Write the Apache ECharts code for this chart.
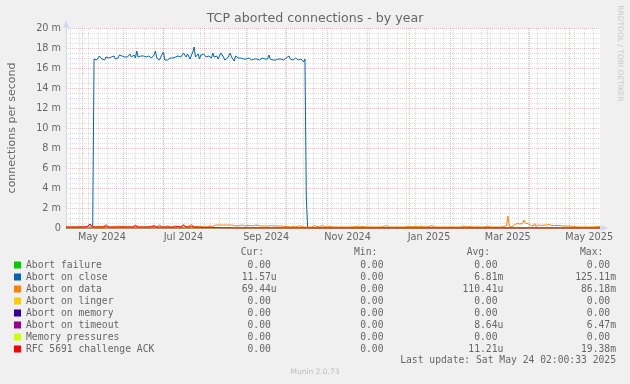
<!DOCTYPE html>
<html><head><meta charset="utf-8">
<script src="https://cdn.jsdelivr.net/npm/echarts@6/dist/echarts.min.js"></script>
<style>html,body{margin:0;padding:0;background:#F0F0F0;}#c{width:630px;height:384px;}</style>
</head><body><div id="c"></div>
<script>
// ---------- data ----------
const titleText = 'TCP aborted connections - by year';
const yAxisTitle = 'connections per second';
const endTime = Date.UTC(2025, 4, 24, 2, 0, 33);
const spanDays = 400;
const DAY = 86400000;
const startTime = endTime - spanDays * DAY;

const seriesNames = ['Abort failure', 'Abort on close', 'Abort on data', 'Abort on linger',
  'Abort on memory', 'Abort on timeout', 'Memory pressures', 'RFC 5691 challenge ACK'];
const seriesColors = ['#00CC00', '#0066B3', '#FF8000', '#FFCC00', '#330099', '#990099', '#CCFF00', '#FF0000'];

// y values in milli-connections per second (m), daily averages
const failureLevel = 0;
const lingerLevel = 0;
const memoryLevel = 0;
const pressuresLevel = 0;

const closeFirstDay = 20;
const closeDaily = [0.1,
  16.9,17.0,16.8,16.7,17.2,17.1,16.9,17.0,16.8,17.1,
  17.2,17.0,16.9,17.1,17.0,17.2,16.9,17.1,17.0,17.3,
  17.1,17.2,17.0,17.1,17.3,17.1,17.2,17.4,17.1,17.2,
  17.3,17.0,17.7,17.1,16.9,17.2,17.1,17.2,17.0,17.1,
  17.1,17.2,17.1,17.0,17.2,17.3,17.7,17.0,16.9,16.8,
  17.1,17.2,17.6,16.8,16.6,16.8,16.9,17.0,17.1,17.0,
  17.2,17.1,17.3,17.2,17.4,17.1,17.2,17.5,17.6,17.1,
  17.4,17.3,16.9,17.3,17.6,18.1,17.1,17.2,17.4,16.9,
  17.3,17.2,17.4,17.5,17.1,17.3,17.2,17.3,17.0,17.5,
  17.1,17.3,17.2,16.9,17.0,17.5,17.6,17.1,16.8,16.7,
  17.0,17.2,17.5,17.1,16.9,16.7,17.2,17.1,17.0,16.8,
  17.0,17.1,16.9,17.0,16.9,16.9,17.0,16.9,16.8,16.9,
  16.9,16.8,16.9,16.9,16.8,16.9,17.0,16.9,16.9,16.8,
  16.9,17.3,16.9,16.8,16.8,16.9,16.8,16.9,16.9,16.8,
  16.9,16.9,16.8,16.9,17.0,16.9,17.2,16.9,16.9,16.8,
  16.9,17.0,16.9,16.8,17.0,16.9,16.8,16.6,16.9,
  3.1, 0.0];

const dataDaily = [
  0.10,0.12,0.10,0.15,0.10,0.12,0.10,0.20,0.10,0.12,
  0.15,0.10,0.12,0.18,0.10,0.12,0.10,0.25,0.35,0.20,
  0.15,0.10,0.12,0.10,0.15,0.10,0.12,0.10,0.15,0.30,
  0.35,0.15,0.10,0.12,0.10,0.15,0.10,0.12,0.10,0.15,
  0.20,0.10,0.12,0.10,0.15,0.10,0.12,0.10,0.12,0.15,
  0.10,0.25,0.30,0.12,0.10,0.15,0.10,0.12,0.10,0.15,
  0.12,0.20,0.10,0.15,0.10,0.12,0.25,0.15,0.10,0.20,
  0.30,0.20,0.15,0.10,0.12,0.10,0.20,0.15,0.10,0.12,
  0.10,0.15,0.25,0.12,0.10,0.20,0.15,0.30,0.35,0.15,
  0.12,0.10,0.20,0.30,0.35,0.15,0.12,0.10,0.15,0.20,
  0.12,0.10,0.15,0.12,0.10,0.20,0.15,0.10,0.20,0.12,
  0.15,0.25,0.30,0.25,0.30,0.20,0.30,0.25,0.30,0.20,
  0.30,0.25,0.30,0.25,0.30,0.20,0.25,0.30,0.20,0.30,
  0.25,0.20,0.30,0.25,0.20,0.30,0.25,0.20,0.25,0.30,
  0.20,0.25,0.30,0.20,0.25,0.30,0.20,0.25,0.20,0.30,
  0.20,0.25,0.20,0.30,0.25,0.20,0.20,0.25,0.20,0.25,
  0.20,0.15,0.20,0.25,0.15,0.20,0.15,0.20,0.10,0.20,
  0.15,0.20,0.10,0.15,0.20,0.10,0.20,0.15,0.10,0.15,
  0.10,0.20,0.10,0.15,0.10,0.12,0.25,0.10,0.15,0.10,
  0.12,0.10,0.25,0.10,0.12,0.10,0.12,0.10,0.15,0.10,
  0.10,0.12,0.10,0.15,0.10,0.12,0.10,0.20,0.10,0.12,
  0.10,0.15,0.10,0.12,0.10,0.10,0.12,0.10,0.20,0.10,
  0.12,0.10,0.15,0.10,0.12,0.10,0.10,0.20,0.10,0.12,
  0.10,0.12,0.10,0.15,0.10,0.12,0.10,0.20,0.15,0.10,
  0.25,0.15,0.10,0.12,0.10,0.15,0.10,0.12,0.10,0.12,
  0.10,0.15,0.10,0.12,0.10,0.12,0.15,0.30,0.15,0.10,
  0.12,0.10,0.15,0.10,0.12,0.10,0.20,0.10,0.12,0.10,
  0.12,0.10,0.15,0.10,0.25,0.15,0.10,0.12,0.10,0.15,
  0.10,0.12,0.10,0.15,0.10,0.12,0.10,0.15,0.10,0.12,
  0.10,0.15,0.10,0.12,0.10,0.15,0.10,0.12,0.20,0.10,
  0.12,0.10,0.15,0.10,0.12,0.10,0.10,0.10,0.12,0.10,
  0.10,0.12,0.10,0.10,0.12,0.10,0.15,0.10,0.10,0.12,
  0.10,0.12,0.10,0.15,0.10,0.12,0.10,0.12,0.15,0.20,
  0.25,1.20,0.20,0.15,0.10,0.25,0.35,0.30,0.45,0.35,
  0.40,0.55,0.45,0.80,0.50,0.30,0.45,0.30,0.25,0.20,
  0.20,0.45,0.15,0.25,0.30,0.30,0.25,0.30,0.30,0.25,
  0.30,0.30,0.35,0.30,0.25,0.30,0.25,0.30,0.25,0.20,
  0.25,0.20,0.20,0.15,0.20,0.15,0.20,0.15,0.20,0.10,
  0.15,0.10,0.12,0.15,0.10,0.12,0.10,0.15,0.10,0.12,
  0.10,0.15,0.10,0.12,0.10,0.15,0.10,0.12,0.15,0.10,
  0.12];

const timeoutDays   = [0, 215, 216, 217, 221, 222, 223, 400];
const timeoutValues = [0, 0, 0.06, 0, 0, 0.06, 0, 0];

const rfcDaily = [
  0.10,0.08,0.10,0.08,0.10,0.08,0.10,0.08,0.10,0.12,
  0.10,0.08,0.10,0.12,0.10,0.08,0.15,0.20,0.40,0.25,
  0.10,0.08,0.10,0.08,0.10,0.12,0.10,0.08,0.10,0.15,
  0.20,0.12,0.10,0.08,0.10,0.08,0.10,0.12,0.10,0.08,
  0.10,0.08,0.10,0.12,0.10,0.08,0.10,0.08,0.10,0.12,
  0.10,0.15,0.20,0.12,0.10,0.08,0.10,0.08,0.10,0.08,
  0.10,0.12,0.10,0.08,0.15,0.25,0.20,0.10,0.08,0.10,
  0.12,0.10,0.08,0.10,0.08,0.10,0.12,0.10,0.08,0.10,
  0.08,0.10,0.12,0.10,0.15,0.10,0.08,0.20,0.25,0.15,
  0.10,0.08,0.10,0.15,0.20,0.10,0.08,0.10,0.08,0.10,
  0.08,0.10,0.05,0.08,0.05,0.08,0.05,0.05,0.08,0.05,
  0.05,0.03,0.05,0.03,0.05,0.03,0.02,0.03,0.02,0.02,
  0.02,0.01,0.02,0.01,0.01,0.0,0.0,0.0,0.0,0.0];

const yMin = 0, yMax = 20, yStep = 2;
const monthStarts = ['2024-05-01','2024-06-01','2024-07-01','2024-08-01','2024-09-01','2024-10-01',
  '2024-11-01','2024-12-01','2025-01-01','2025-02-01','2025-03-01','2025-04-01','2025-05-01'];
const labelDates = ['2024-05-16','2024-07-16','2024-09-16','2024-11-16','2025-01-16','2025-03-16','2025-05-16'];
const labelTexts = ['May 2024','Jul 2024','Sep 2024','Nov 2024','Jan 2025','Mar 2025','May 2025'];

const curValues = ['0.00','11.57u','69.44u','0.00','0.00','0.00','0.00','0.00'];
const minValues = ['0.00','0.00','0.00','0.00','0.00','0.00','0.00','0.00'];
const avgValues = ['0.00','6.81m','110.41u','0.00','0.00','8.64u','0.00','11.21u'];
const maxValues = ['0.00','125.11m','86.18m','0.00','0.00','6.47m','0.00','19.38m'];
const lastUpdate = 'Last update: Sat May 24 02:00:33 2025';
const muninVersion = 'Munin 2.0.73';
const watermark = 'RRDTOOL / TOBI OETIKER';

// ---------- build ----------
const dayToTime = d => startTime + d * DAY;
const flat = lv => [[startTime, lv], [endTime, lv]];
const closeData = [[startTime, 0]].concat(closeDaily.map((v, i) => [dayToTime(closeFirstDay + i), v]), [[endTime, 0]]);
const dataData = dataDaily.map((v, i) => [dayToTime(i), v]);
const timeoutData = timeoutDays.map((d, i) => [dayToTime(d), timeoutValues[i]]);
const rfcData = rfcDaily.map((v, i) => [dayToTime(i), v]).concat([[endTime, 0]]);
const seriesData = [flat(failureLevel), closeData, dataData, flat(lingerLevel), flat(memoryLevel),
  timeoutData, flat(pressuresLevel), rfcData];

const monthTicks = monthStarts.map(s => Date.parse(s));
const labelTicks = labelDates.map(s => Date.parse(s));
// weekly minor grid (Mondays)
const weekTicks = [];
{
  let t = Date.parse('2024-04-22');
  while (t < endTime) { weekTicks.push(t); t += 7 * DAY; }
}

const SANS = 'DejaVu Sans';
const MONO = 'DejaVu Sans Mono';
const TXT = '#666666';
const FS = 9.7;
const majorGrid = 'rgba(230,110,110,0.45)';
const minorGrid = 'rgba(150,150,150,0.32)';
const axisColor = '#CFD6F8';

const pad = v => /[a-z]$/i.test(v) ? v : v + '\u00a0';
function col(lines, xRight, yTop) {
  return { type: 'text', x: xRight, y: yTop, silent: true,
    style: { text: lines.join('\n'), fontFamily: MONO, fontSize: FS, fill: TXT,
      align: 'right', verticalAlign: 'top', lineHeight: 12 } };
}
const rowTop = 259;
const graphics = [
  { type: 'text', x: 264, y: 246.5, style: { text: 'Cur:', fontFamily: MONO, fontSize: FS, fill: TXT, align: 'right', verticalAlign: 'top', lineHeight: 12 } },
  { type: 'text', x: 377.3, y: 246.5, style: { text: 'Min:', fontFamily: MONO, fontSize: FS, fill: TXT, align: 'right', verticalAlign: 'top', lineHeight: 12 } },
  { type: 'text', x: 490, y: 246.5, style: { text: 'Avg:', fontFamily: MONO, fontSize: FS, fill: TXT, align: 'right', verticalAlign: 'top', lineHeight: 12 } },
  { type: 'text', x: 603.3, y: 246.5, style: { text: 'Max:', fontFamily: MONO, fontSize: FS, fill: TXT, align: 'right', verticalAlign: 'top', lineHeight: 12 } },
  col(curValues.map(pad), 276.7, rowTop),
  col(minValues.map(pad), 389.3, rowTop),
  col(avgValues.map(pad), 503.3, rowTop),
  col(maxValues.map(pad), 616, rowTop),
  { type: 'text', x: 616, y: 354.5, style: { text: lastUpdate, fontFamily: MONO, fontSize: FS, fill: TXT, align: 'right', verticalAlign: 'top', lineHeight: 12 } },
  { type: 'text', x: 315, y: 372, style: { text: muninVersion, fontFamily: SANS, fontSize: 7.5, fill: '#BDBDBD', align: 'center', verticalAlign: 'middle' } },
  { type: 'text', x: 620, y: 53.5, rotation: -Math.PI / 2, style: { text: watermark, fontFamily: SANS, fontSize: 7.5, fill: '#C8C8C8', align: 'center', verticalAlign: 'middle' } }
];

const chart = echarts.init(document.getElementById('c'), null, { renderer: 'canvas' });
chart.setOption({
  animation: false,
  backgroundColor: '#F0F0F0',
  title: { text: titleText, left: 'center', top: 12.5, padding: 0,
    textStyle: { fontFamily: SANS, fontSize: 12.6, fontWeight: 'normal', color: TXT } },
  grid: { left: 66, right: 30, top: 28, bottom: 156, show: true, backgroundColor: '#FFFFFF', borderWidth: 0,
    containLabel: false, outerBoundsMode: 'none' },
  legend: { orient: 'vertical', left: 14, top: rowTop, padding: 0, itemGap: 0, itemWidth: 7, itemHeight: 7,
    icon: 'rect', selectedMode: false, data: seriesNames,
    textStyle: { fontFamily: MONO, fontSize: FS, color: TXT, lineHeight: 12 } },
  xAxis: [
    { type: 'value', min: startTime, max: endTime, show: true, position: 'bottom',
      axisLine: { show: false }, axisTick: { show: false, customValues: weekTicks },
      axisLabel: { show: false }, splitLine: { show: true, lineStyle: { color: minorGrid, type: [1, 1], width: 1 } } },
    { type: 'value', min: startTime, max: endTime, position: 'bottom',
      axisLine: { show: true, onZero: false, lineStyle: { color: axisColor, width: 1 },
        symbol: ['none', 'triangle'], symbolSize: [6, 7], symbolOffset: [0, 4] },
      axisTick: { show: false, customValues: monthTicks },
      axisLabel: { show: true, customValues: labelTicks, margin: 4, fontFamily: SANS, fontSize: FS, color: TXT,
        formatter: v => { const i = labelTicks.indexOf(v); return i >= 0 ? labelTexts[i] : ''; } },
      splitLine: { show: true, lineStyle: { color: majorGrid, type: [1, 1], width: 1 } } }
  ],
  yAxis: {
    type: 'value', min: yMin, max: yMax, interval: yStep,
    name: yAxisTitle, nameLocation: 'middle', nameGap: 48, nameMoveOverlap: false,
    nameTextStyle: { fontFamily: SANS, fontSize: 11, color: TXT },
    axisLine: { show: true, onZero: false, lineStyle: { color: axisColor, width: 1 },
      symbol: ['none', 'triangle'], symbolSize: [6, 7], symbolOffset: [0, 4] },
    axisTick: { show: false },
    axisLabel: { margin: 5, fontFamily: SANS, fontSize: FS, color: TXT,
      formatter: v => v === 0 ? '0' : v + ' m' },
    splitLine: { show: true, lineStyle: { color: majorGrid, type: [1, 1], width: 1 } },
    minorTick: { show: false, splitNumber: 4 },
    minorSplitLine: { show: true, lineStyle: { color: minorGrid, type: [1, 1], width: 1 } }
  },
  series: seriesNames.map((name, i) => ({
    name, type: 'line', xAxisIndex: 1, data: seriesData[i], showSymbol: false, symbol: 'none',
    color: seriesColors[i], lineStyle: { width: 1, color: seriesColors[i] },
    itemStyle: { color: seriesColors[i] }, emphasis: { disabled: true }, silent: true
  })),
  graphic: graphics
});
</script></body></html>
